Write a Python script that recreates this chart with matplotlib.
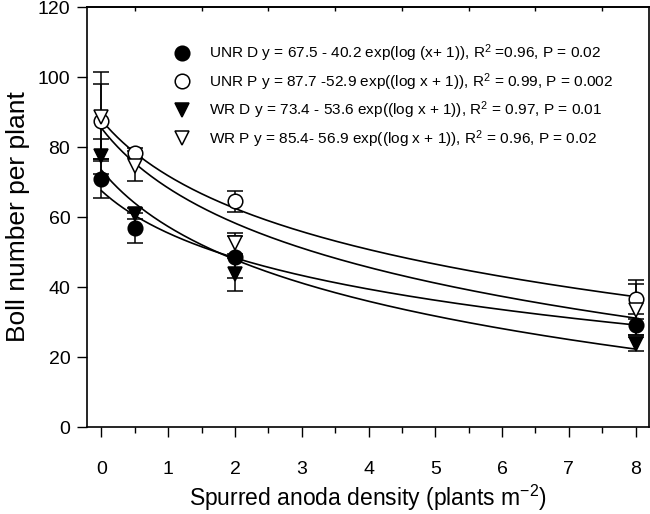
import numpy as np
import matplotlib
matplotlib.use("Agg")
import matplotlib.pyplot as plt
from matplotlib.lines import Line2D
from matplotlib.ticker import MultipleLocator

plt.rcParams['font.family'] = ['Liberation Sans', 'DejaVu Sans']
plt.rcParams['mathtext.fontset'] = 'custom'
plt.rcParams['mathtext.rm'] = 'Liberation Sans'
plt.rcParams['mathtext.it'] = 'Liberation Sans'

# data
density = [0, 0.5, 2, 8]
unr_d = [71.0, 56.9, 48.7, 29.2]
unr_d_err = [5.7, 4.3, 6.0, 3.0]
unr_p = [87.3, 78.3, 64.5, 36.5]
unr_p_err = [10.8, 1.5, 3.0, 5.5]
wr_d = [77.3, 61.0, 43.6, 23.8]
wr_d_err = [5.0, 1.5, 4.7, 2.0]
wr_p = [88.7, 74.5, 52.5, 33.5]
wr_p_err = [12.6, 4.3, 3.0, 7.3]

# fitted coefficients y = a - b*log10(x+1)
fit_a = [67.5, 87.7, 73.4, 85.4]
fit_b = [40.2, 52.9, 53.6, 56.9]

labels = [
    "UNR D y = 67.5 - 40.2 exp(log (x+ 1)), R$^2$ =0.96, P = 0.02",
    "UNR P y = 87.7 -52.9 exp((log x + 1)), R$^2$ = 0.99, P = 0.002",
    "WR D y = 73.4 - 53.6 exp((log x + 1)), R$^2$ = 0.97, P = 0.01",
    "WR P y = 85.4- 56.9 exp((log x + 1)), R$^2$ = 0.96, P = 0.02",
]
xticks = [0, 1, 2, 3, 4, 5, 6, 7, 8]
yticks = [0, 20, 40, 60, 80, 100, 120]

fig = plt.figure(figsize=(6.5, 5.14), dpi=100)
ax = fig.add_axes([87/650, 1-427/514, (649-87)/650, (427-7)/514])

series = [
    (unr_d, unr_d_err, 'o', 'black'),
    (unr_p, unr_p_err, 'o', 'white'),
    (wr_d, wr_d_err, 'v', 'black'),
    (wr_p, wr_p_err, 'v', 'white'),
]

xs = np.linspace(0, 8, 300)
for a, b in zip(fit_a, fit_b):
    ax.plot(xs, a - b*np.log10(xs+1), color='black', lw=1.2, zorder=2)

handles = []
for (vals, errs, mk, fc), lab in zip(series, labels):
    ax.errorbar(density, vals, yerr=errs, fmt='none', ecolor='black',
                elinewidth=1.1, capsize=5.5, capthick=1.1, zorder=3)
    ax.plot(density, vals, linestyle='none', marker=mk, markersize=10.5,
            markerfacecolor=fc, markeredgecolor='black', markeredgewidth=1.1, zorder=4)
    handles.append(Line2D([], [], linestyle='none', marker=mk, markersize=10.5,
                          markerfacecolor=fc, markeredgecolor='black', markeredgewidth=1.1))

leg = ax.legend(handles, labels, loc='upper left', bbox_to_anchor=(0.145, 0.93),
                frameon=False, fontsize=11.1, handlelength=1.0, handletextpad=1.2,
                labelspacing=0.45, borderaxespad=0)

ax.set_xlim(-0.216, 8.2)
ax.set_ylim(0, 120)
ax.set_xticks(xticks)
ax.set_yticks(yticks)
ax.xaxis.set_minor_locator(MultipleLocator(0.5))
ax.tick_params(axis='x', which='major', direction='out', length=7, width=1,
               labelsize=14, pad=17.5, top=False)
ax.tick_params(axis='x', which='minor', direction='out', length=4, width=1, top=False)
ax.tick_params(axis='y', which='major', direction='out', length=7, width=1,
               labelsize=14, pad=5, right=False)

sec = ax.secondary_xaxis('top')
sec.set_xticks([0.5, 1.5, 2.5, 3.5, 4.5, 5.5, 6.5, 7.5])
sec.tick_params(direction='in', length=3, width=1, labeltop=False)
sec.spines['top'].set_linewidth(1.2)

for s in ax.spines.values():
    s.set_linewidth(1.2)

ax.set_xlabel("Spurred anoda density (plants m$^{-2}$)", fontsize=16.5)
ax.set_ylabel("Boll number per plant", fontsize=19)
ax.xaxis.set_label_coords(0.5, -0.133)
ax.yaxis.set_label_coords(-0.102, 0.5)

fig.savefig("out.png", dpi=100)
